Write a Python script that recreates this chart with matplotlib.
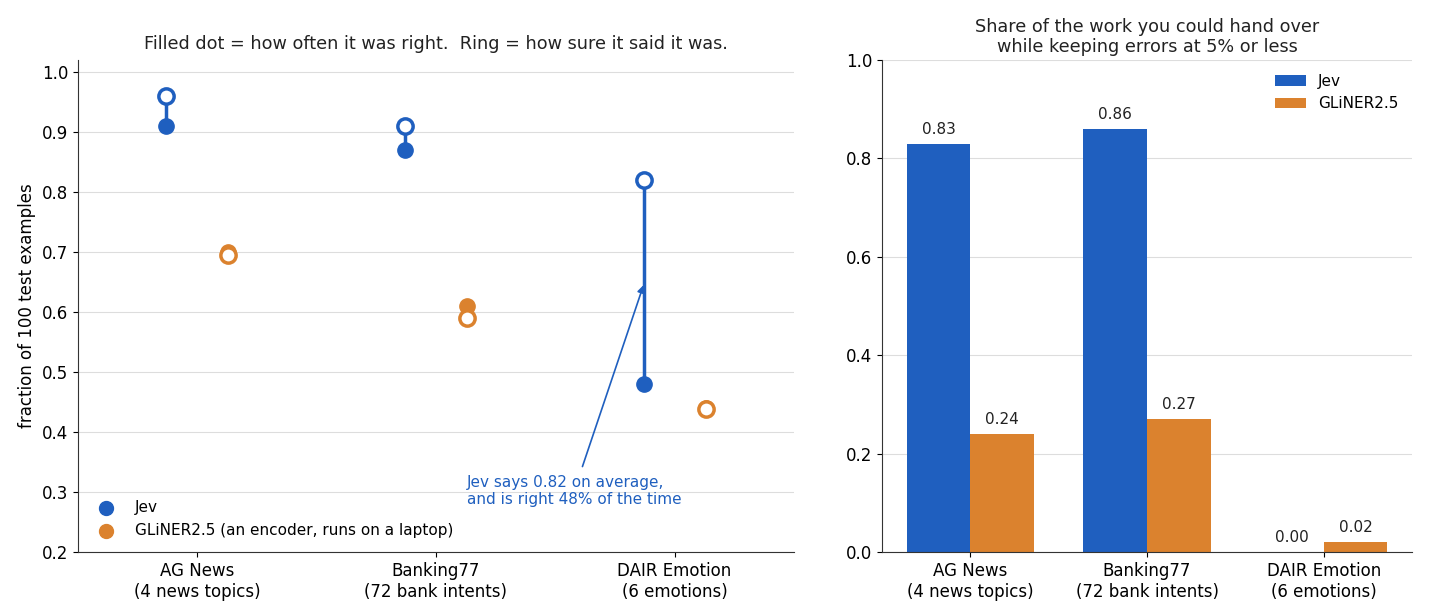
import matplotlib.pyplot as plt
import numpy as np

datasets = ["AG News\n(4 news topics)", "Banking77\n(72 bank intents)", "DAIR Emotion\n(6 emotions)"]
models = ["Jev", "GLiNER2.5"]

# left chart: accuracy (filled dot) and mean confidence (ring)
jev_acc = [0.91, 0.87, 0.48]
jev_conf = [0.96, 0.91, 0.82]
gli_acc = [0.70, 0.61, 0.44]
gli_conf = [0.695, 0.59, 0.438]

# right chart: share of work handed over at <=5% error
jev_share = [0.83, 0.86, 0.00]
gli_share = [0.24, 0.27, 0.02]

BLUE = "#1f5fbf"
ORANGE = "#db822e"
GRID = "#dddddd"
TXT = "#222222"

plt.rcParams['font.family'] = ['DejaVu Sans']

fig = plt.figure(figsize=(14.3, 6.16), dpi=100)
ax1 = fig.add_axes([0.0545, 0.1039, 0.5007, 0.7987])
ax2 = fig.add_axes([0.6168, 0.1039, 0.3706, 0.7987])

x = np.arange(len(datasets))
off = 0.13

for xs, acc, conf, col in [(x - off, jev_acc, jev_conf, BLUE), (x + off, gli_acc, gli_conf, ORANGE)]:
    for xi, a, c in zip(xs, acc, conf):
        ax1.plot([xi, xi], [a, c], color=col, lw=2.5, zorder=2)
    ax1.plot(xs, acc, "o", ls="none", color=col, ms=11, zorder=3)
    ax1.plot(xs, conf, "o", ls="none", mfc="white", mec=col, mew=2.5, ms=11, zorder=4)

ax1.scatter([], [], color=BLUE, s=100, label="Jev")
ax1.scatter([], [], color=ORANGE, s=100, label="GLiNER2.5 (an encoder, runs on a laptop)")
ax1.legend(loc="lower left", frameon=False, fontsize=11, handletextpad=0.9,
           borderaxespad=0.2, bbox_to_anchor=(0.005, 0.01))

ax1.annotate("Jev says 0.82 on average,\nand is right 48% of the time",
             xy=(2 - off, 0.645), xytext=(1.13, 0.275),
             fontsize=11, color=BLUE, ha="left", va="bottom",
             arrowprops=dict(arrowstyle="-|>", color=BLUE, lw=1.2, shrinkA=4, shrinkB=0))

ax1.set_xlim(-0.5, 2.5)
ax1.set_ylim(0.2, 1.02)
ax1.set_yticks(np.arange(0.2, 1.01, 0.1))
ax1.set_xticks(x)
ax1.set_xticklabels(datasets, fontsize=12)
ax1.tick_params(axis="y", labelsize=12)
ax1.set_ylabel("fraction of 100 test examples", fontsize=12)
ax1.set_title("Filled dot = how often it was right.  Ring = how sure it said it was.",
              fontsize=12.7, color=TXT, pad=8)
ax1.yaxis.grid(True, color=GRID, lw=0.8)
ax1.set_axisbelow(True)

w = 0.36
b1 = ax2.bar(x - w / 2, jev_share, w, color=BLUE, label=models[0])
b2 = ax2.bar(x + w / 2, gli_share, w, color=ORANGE, label=models[1])
ax2.bar_label(b1, fmt="%.2f", padding=5, fontsize=11, color=TXT)
ax2.bar_label(b2, fmt="%.2f", padding=5, fontsize=11, color=TXT)
ax2.set_xlim(-0.5, 2.5)
ax2.set_ylim(0, 1.0)
ax2.set_xticks(x)
ax2.set_xticklabels(datasets, fontsize=12)
ax2.tick_params(axis="y", labelsize=12)
ax2.set_title("Share of the work you could hand over\nwhile keeping errors at 5% or less",
              fontsize=12.7, color=TXT, pad=6, linespacing=1.1)
ax2.yaxis.grid(True, color=GRID, lw=0.8)
ax2.set_axisbelow(True)
ax2.legend(loc="upper right", frameon=False, fontsize=11, handlelength=2.0)

for ax in (ax1, ax2):
    ax.spines["top"].set_visible(False)
    ax.spines["right"].set_visible(False)
    ax.spines["left"].set_color("#333333")
    ax.spines["bottom"].set_color("#333333")

fig.savefig("out.png", dpi=100)
